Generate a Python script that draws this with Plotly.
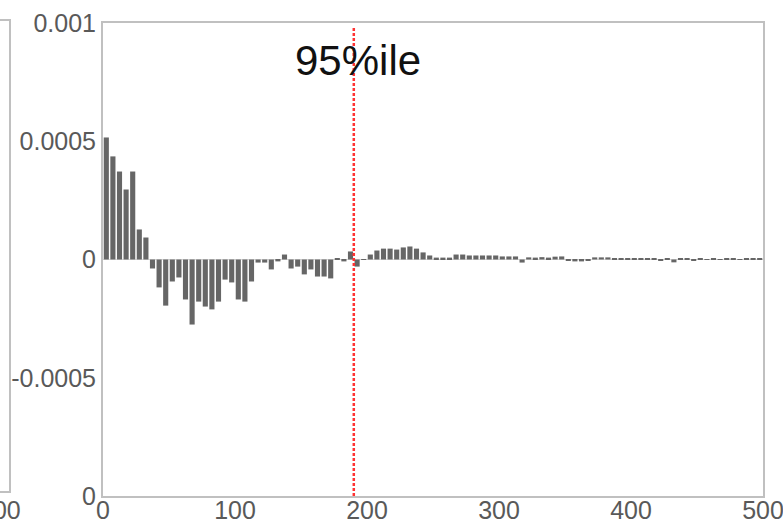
import plotly.graph_objects as go

# Bin centres (bin width 5) and bar values
bin_width = 5
bin_centers = [i * bin_width + bin_width / 2 for i in range(100)]
values = [
    0.000516, 0.000436, 0.000372, 0.000296, 0.000372, 0.000127, 0.000093, -0.000038, -0.000118, -0.000195,
    -0.000093, -0.000076, -0.000169, -0.000275, -0.000178, -0.000199, -0.000211, -0.000178, -0.000085, -0.000097,
    -0.000169, -0.000178, -0.000093, -0.000013, -0.000013, -0.000042, -0.000008, 0.000021, -0.000038, -0.000030,
    -0.000063, -0.000042, -0.000072, -0.000072, -0.000080, 0.000003, -0.000008, 0.000034, -0.000030, 0.000002,
    0.000021, 0.000038, 0.000046, 0.000046, 0.000042, 0.000051, 0.000055, 0.000046, 0.000030, 0.000017,
    0.000008, 0.000008, 0.000008, 0.000021, 0.000021, 0.000017, 0.000017, 0.000017, 0.000017, 0.000017,
    0.000013, 0.000013, 0.000013, -0.000013, 0.000009, 0.000008, 0.000010, 0.000008, 0.000012, 0.000013,
    -0.000004, -0.000008, -0.000008, -0.000004, 0.000009, 0.000009, 0.000009, 0.000004, 0.000004, 0.000004,
    0.000004, 0.000004, 0.000004, 0.000004, -0.000004, 0.000005, -0.000012, 0.000004, 0.000003, -0.000003,
    0.000004, 0.000002, 0.000004, -0.000002, 0.000003, 0.000004, 0.000002, 0.000003, 0.000004, 0.000003,
]
percentile_x = 190
percentile_label = "95%ile"

x_ticks = [0, 100, 200, 300, 400, 500]
y_ticks = [-0.001, -0.0005, 0, 0.0005, 0.001]
y_ticktext = ["0", "-0.0005", "0", "0.0005", "0.001"]

W, H = 783, 519
L, R, T, B = 103, 20, 23, 23
pw, ph = W - L - R, H - T - B


def px(xp):
    return (xp - L) / pw


def py(yp):
    return (H - B - yp) / ph


fig = go.Figure()
fig.add_trace(go.Bar(
    x=bin_centers, y=values,
    marker=dict(color="#666666", line=dict(width=0)),
    width=bin_width * 0.78,
    showlegend=False,
))

tick_font = dict(family="Liberation Sans, Arial, sans-serif", size=25, color="#595959")

fig.update_layout(
    width=W, height=H,
    margin=dict(l=L, r=R, t=T, b=B, pad=0),
    paper_bgcolor="white", plot_bgcolor="white",
    xaxis=dict(
        range=[0, 500], tickvals=x_ticks, ticks="", showgrid=False, zeroline=False,
        showline=True, mirror=True, linecolor="#C0C0C0", linewidth=2,
        tickfont=tick_font, automargin=False, ticklabeloverflow="allow",
        ticklabelstandoff=-9,
    ),
    yaxis=dict(
        range=[-0.001, 0.001], tickvals=y_ticks, ticktext=y_ticktext, ticks="",
        showgrid=False, zeroline=True, zerolinecolor="#DADADA", zerolinewidth=1,
        showline=True, mirror=True, linecolor="#C0C0C0", linewidth=2,
        tickfont=tick_font, automargin=False, ticklabeloverflow="allow",
    ),
    bargap=0.2,
)

# 95th percentile marker
fig.add_shape(type="line", x0=percentile_x, x1=percentile_x, y0=-0.001, y1=0.00098,
              xref="x", yref="y", line=dict(color="#FF3333", width=2.5, dash="3px,2px"))
fig.add_annotation(x=percentile_x + 3.5, y=0.00084, xref="x", yref="y", text=percentile_label,
                   showarrow=False, font=dict(family="Liberation Sans, Arial, sans-serif", size=42, color="#111111"),
                   xanchor="center", yanchor="middle")

# neighbouring chart frame fragment on the left edge
fig.add_shape(type="path", xref="paper", yref="paper",
              path=f"M {px(0)},{py(20)} L {px(10)},{py(20)} L {px(10)},{py(492)} L {px(0)},{py(492)}",
              line=dict(color="#C0C0C0", width=2))
fig.add_annotation(x=px(23), y=py(510), xref="paper", yref="paper", text="500", showarrow=False,
                   xanchor="right", yanchor="middle", font=tick_font)

fig.write_html("out.html")
